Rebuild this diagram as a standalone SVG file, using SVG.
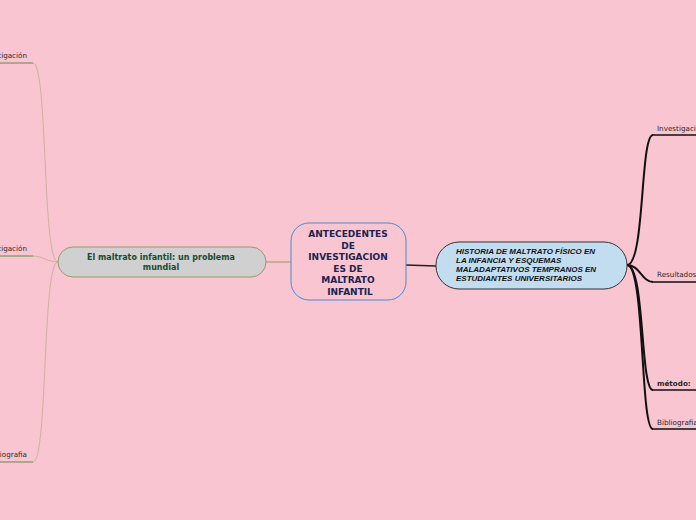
<svg xmlns="http://www.w3.org/2000/svg" width="696" height="520" viewBox="0 0 696 520">
<style>
.lbl{font-family:"DejaVu Sans",Verdana,sans-serif;font-size:7.2px;fill:#2a2a2a}
.lcurve{fill:none;stroke:#cfb0a0;stroke-width:1}
.lline{fill:none;stroke:#90a070;stroke-width:1.5}
.rcurve{fill:none;stroke:#111;stroke-width:2}
.rline{fill:none;stroke:#111;stroke-width:1.5}
</style>
<rect width="696" height="520" fill="#f9c5d0"/>
<g id="connectors">
<path class="lcurve" d="M58,262 C42,262 48,63 33,63"/>
<path class="lcurve" d="M58,262 C48,262 42,256 33,256"/>
<path class="lcurve" d="M58,262 C42,262 48,462 33,462"/>
<path class="lline" d="M0,63 H33 M0,256 H33 M0,462 H33"/>
<path d="M266,262 H291" fill="none" stroke="#b8a880" stroke-width="1.5"/>
<path d="M406,265 L436,266" fill="none" stroke="#222" stroke-width="1.5"/>
<path class="rcurve" d="M627,265 C645,265 640,135 653,135"/>
<path class="rcurve" d="M627,265 C640,265 642,282 653,282"/>
<path class="rcurve" d="M627,265 C645,265 640,390 653,390"/>
<path class="rcurve" d="M627,265 C645,265 640,429 653,429"/>
<path class="rline" d="M652,135 H696 M652,282 H696 M652,390 H696 M652,429 H696"/>
</g>
<g id="l1"><text class="lbl" x="27" y="58" text-anchor="end">Investigación</text></g>
<g id="l2"><text class="lbl" x="27" y="251" text-anchor="end">Investigación</text></g>
<g id="l3"><text class="lbl" x="27" y="457" text-anchor="end">Bibliografia</text></g>
<g id="left">
<rect x="58" y="247" width="208" height="30" rx="15" fill="#d0d0d0" stroke="#9a9a70" stroke-width="1"/>
<text font-family="DejaVu Sans,Verdana,sans-serif" font-weight="bold" font-size="8" fill="#1a4a30" text-anchor="middle"><tspan x="161" y="260">El maltrato infantil: un problema</tspan><tspan x="161" y="270">mundial</tspan></text>
</g>
<g id="center">
<rect x="291" y="223" width="115" height="77" rx="18" fill="#f9c5d0" stroke="#4a8ad0" stroke-width="1"/>
<text font-family="DejaVu Sans,Verdana,sans-serif" font-weight="bold" font-size="9" fill="#1a2450" text-anchor="middle"><tspan x="348" y="237">ANTECEDENTES</tspan><tspan x="348" y="248.5">DE</tspan><tspan x="348" y="260">INVESTIGACION</tspan><tspan x="348" y="271.5">ES DE</tspan><tspan x="348" y="283">MALTRATO</tspan><tspan x="350" y="294.5">INFANTIL</tspan></text>
</g>
<g id="right">
<rect x="436" y="242" width="191" height="47" rx="23" fill="#c3ddf0" stroke="#333" stroke-width="1"/>
<text font-family="Liberation Sans,Arial,sans-serif" font-weight="bold" font-style="italic" font-size="8" fill="#111"><tspan x="456" y="254">HISTORIA DE MALTRATO FÍSICO EN</tspan><tspan x="456" y="263">LA INFANCIA Y ESQUEMAS</tspan><tspan x="456" y="272">MALADAPTATIVOS TEMPRANOS EN</tspan><tspan x="456" y="281">ESTUDIANTES UNIVERSITARIOS</tspan></text>
</g>
<g id="r1"><text class="lbl" x="657" y="131">Investigación</text></g>
<g id="r2"><text class="lbl" x="657" y="277">Resultados</text></g>
<g id="r3"><text class="lbl" x="657" y="386"><tspan font-weight="bold">método:</tspan></text></g>
<g id="r4"><text class="lbl" x="657" y="425">Bibliografia</text></g>
</svg>
